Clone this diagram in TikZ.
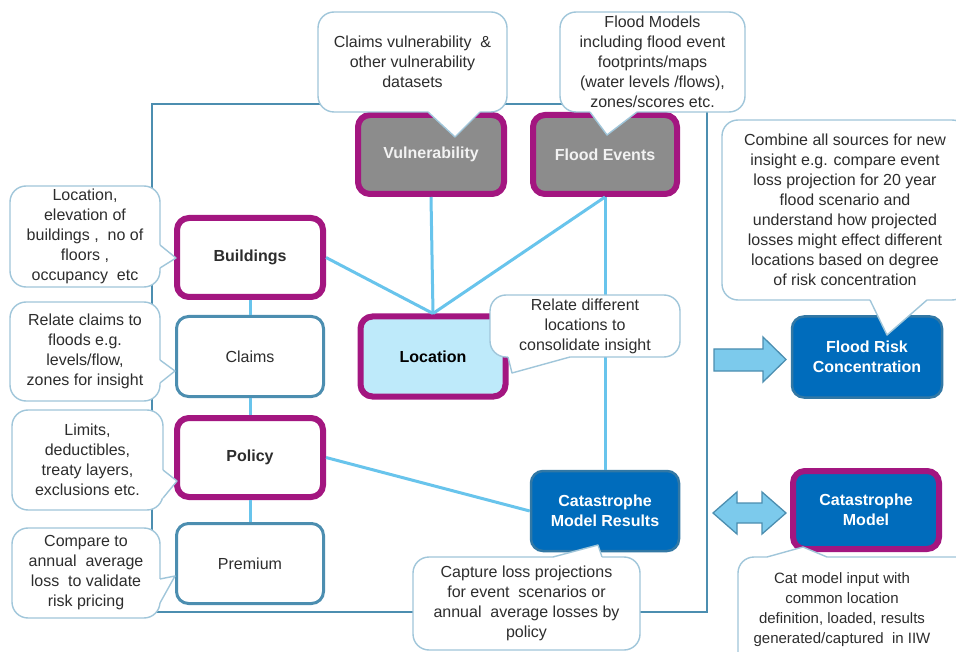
\documentclass[tikz,border=0pt]{standalone}
\usepackage{fontspec}
\setmainfont{Liberation Sans}
\usetikzlibrary{calc}

\definecolor{plum}{RGB}{163,22,128}
\definecolor{steel}{RGB}{76,142,176}
\definecolor{linkblue}{RGB}{104,196,236}
\definecolor{slate}{RGB}{140,140,140}
\definecolor{paleblue}{RGB}{190,234,250}
\definecolor{royal}{RGB}{0,108,188}
\definecolor{royaledge}{RGB}{50,120,165}
\definecolor{noteedge}{RGB}{160,198,218}
\definecolor{ink}{RGB}{45,45,45}
\definecolor{arrowfill}{RGB}{124,202,236}

% white callout pointer: base point, tip, base point, inward shift
\newcommand\notewedge[4]{%
  \fill[white] ($#1+#4$) -- #1 -- #2 -- #3 -- ($#3+#4$) -- cycle;
  \draw[noteline] #1 -- #2 -- #3;
}

\begin{document}
\begin{tikzpicture}[x=1pt,y=-1pt,
  txt/.style={font=\fontsize{16}{20}\selectfont},
  box/.style={rounded corners=12pt, align=center, inner sep=0pt, txt, text=ink},
  sz/.style 2 args={minimum width=#1pt, minimum height=#2pt},
  keybox/.style={box, draw=plum, line width=6pt, fill=white, font=\fontsize{16}{20}\selectfont\bfseries},
  plainbox/.style={box, draw=steel, line width=3pt, fill=white},
  greybox/.style={keybox, fill=slate, text=white!95!black},
  locbox/.style={keybox, fill=paleblue, text=black},
  bluebox/.style={box, draw=royaledge, line width=2.5pt, fill=royal, text=white, font=\fontsize{16}{20}\selectfont\bfseries},
  bluekey/.style={bluebox, draw=plum, line width=6pt},
  link/.style={draw=linkblue, line width=3pt},
  noteline/.style={draw=noteedge, line width=1.4pt, line join=round},
  note/.style={noteline, fill=white, rounded corners=16pt, align=center, inner sep=0pt, txt, text=ink},
  frame/.style={draw=steel, line width=2.5pt},
  blockarrow/.style={draw=steel, line width=1.3pt, fill=arrowfill, line join=miter}
]
\useasboundingbox (0,0) rectangle (956,652);
\clip (0,0) rectangle (956,652);
\fill[white] (0,0) rectangle (956,652);

% enclosing frame
\node[frame, sz={555}{508}, inner sep=0pt] (frame) at (429.5,358) {};

% main boxes
\node[keybox, sz={146}{79}] (bld) at (250,257.5) {\raisebox{-2pt}{Buildings}};
\node[plainbox, sz={147}{80}] (clm) at (250,356.5) {\raisebox{-2pt}{Claims}};
\node[keybox, sz={146}{79}] (pol) at (250,457.5) {\raisebox{-2pt}{Policy}};
\node[plainbox, sz={147}{80}] (prm) at (250,563.5) {\raisebox{-2pt}{Premium}};
\node[greybox, sz={146}{79}] (vul) at (431,154.5) {\raisebox{-2pt}{Vulnerability}};
\node[greybox, sz={144}{79}] (fev) at (605,154.5) {\raisebox{-2pt}{Flood Events}};
\node[locbox, sz={145}{80}] (loc) at (433,356.5) {\raisebox{-2pt}{Location}};
\node[bluebox, sz={148}{80}] (cmr) at (605,511) {Catastrophe\\Model Results};
\node[bluebox, sz={150}{81}] (frc) at (867,357) {Flood Risk\\Concentration};
\node[bluekey, sz={146}{78}] (cmd) at (866,510) {Catastrophe\\Model};

% connectors
\draw[link] (bld.south) -- (clm.north);
\draw[link] (clm.south) -- (pol.north);
\draw[link] (pol.south) -- (prm.north);
\draw[link] (bld.east) -- (loc.north);
\draw[link] (vul.south) -- (loc.north);
\draw[link] (fev.south) -- (loc.north);
\draw[link] (fev.south) -- (cmr.north);
\draw[link] (pol.east) -- (cmr.west);

% block arrows toward the right-hand boxes
\draw[blockarrow] (714,349) -- (763,349) -- (763,337) -- (786,359.5)
  -- (763,382) -- (763,371) -- (714,371) -- cycle;
\draw[blockarrow] (713,513) -- (737,492) -- (737,503) -- (762,503) -- (762,492)
  -- (786,513) -- (762,534) -- (762,523) -- (737,523) -- (737,534) -- cycle;

% callouts
\node[note, sz={189}{100}] (nvul) at (412.5,62) {Claims vulnerability~ \&\\other vulnerability\\datasets};
\notewedge{(428,112)}{(455,137)}{(480,112)}{(0,-2)}

\node[note, sz={185}{100}] (nfev) at (652.5,62) {Flood Models\\including flood event\\footprints/maps\\(water levels /flows),\\zones/scores etc.};
\notewedge{(590,112)}{(607,135)}{(637,112)}{(0,-2)}

\node[note, sz={150}{101}] (nbld) at (85,236.5) {Location,\\elevation of\\buildings ,~ no of\\floors ,\\occupancy~ etc};
\notewedge{(160,245)}{(176,258)}{(160,268)}{(-2,0)}

\node[note, sz={150}{99}] (nclm) at (85,351.5) {Relate claims to\\floods e.g.\\levels/flow,\\zones for insight};
\notewedge{(160,360)}{(175,371)}{(160,383)}{(-2,0)}

\node[note, sz={151}{100}] (npol) at (87.5,460) {Limits,\\deductibles,\\treaty layers,\\exclusions etc.};
\notewedge{(163,470)}{(177,481)}{(163,498)}{(-2,0)}

\node[note, sz={148}{90}] (nprm) at (86,573) {Compare to\\annual~ average\\loss~ to validate\\risk pricing};
\notewedge{(160,579)}{(175,576)}{(160,603)}{(-2,0)}

\node[note, sz={190}{62}] (nloc) at (585,326) {Relate different\\locations to\\consolidate insight};
\notewedge{(508,357)}{(512,373)}{(570,357)}{(0,-2)}

\node[note, sz={227}{93}] (ncmr) at (526.5,603.5) {Capture loss projections\\for event~ scenarios or\\annual~ average losses by\\policy};
\notewedge{(553,557)}{(598,545)}{(602,557)}{(0,2)}

\node[note, sz={246}{180}] (nfrc) at (845,210) {Combine all sources for new\\insight e.g. compare event\\loss projection for 20 year\\flood scenario and\\understand how projected\\losses might effect different\\locations based on degree\\of risk concentration};
\notewedge{(870,300)}{(887,335)}{(927,300)}{(0,-2)}

\node[note, sz={237}{113}] (ncmd) at (856.5,613.5) {};
\notewedge{(767,557)}{(803,547)}{(827,557)}{(0,2)}
\node[align=center, inner sep=0pt, font=\fontsize{15}{20}\selectfont, text=ink] (ncmdtext) at (842,610)
  {Cat model input with\\common location\\definition, loaded, results\\generated/captured~ in IIW};
\end{tikzpicture}
\end{document}
